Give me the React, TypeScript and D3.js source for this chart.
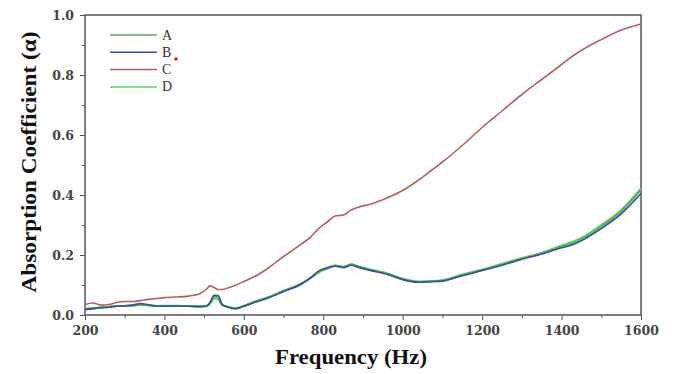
import * as d3 from "d3";
import React, { useEffect, useRef } from "react";

// DATA
const freq = [
  200, 220, 240, 260, 280, 300, 320, 340, 360, 380, 400, 430, 460, 490, 505, 515, 525, 535, 545, 560,
  580, 600, 630, 660, 700, 740, 770, 790, 810, 830, 850, 870, 890, 920, 960, 1000, 1040, 1070, 1100,
  1150, 1200, 1250, 1300, 1350, 1400, 1430, 1460, 1500, 1550, 1600,
];
const seriesA = [
  0.02, 0.022, 0.025, 0.027, 0.03, 0.03, 0.032, 0.035, 0.033, 0.03, 0.03, 0.03, 0.03, 0.028, 0.03, 0.04,
  0.062, 0.06, 0.035, 0.027, 0.022, 0.03, 0.045, 0.058, 0.08, 0.1, 0.125, 0.145, 0.155, 0.165, 0.16,
  0.168, 0.16, 0.15, 0.138, 0.12, 0.11, 0.112, 0.115, 0.133, 0.15, 0.168, 0.188, 0.205, 0.228, 0.24,
  0.26, 0.295, 0.345, 0.418,
];
const seriesB = [
  0.018, 0.021, 0.024, 0.026, 0.029, 0.031, 0.033, 0.038, 0.034, 0.03, 0.029, 0.03, 0.029, 0.028, 0.029,
  0.042, 0.066, 0.065, 0.036, 0.026, 0.021, 0.029, 0.043, 0.056, 0.078, 0.1, 0.127, 0.148, 0.158, 0.163,
  0.158, 0.166, 0.158, 0.148, 0.136, 0.118, 0.109, 0.111, 0.113, 0.131, 0.148, 0.166, 0.186, 0.203,
  0.224, 0.235, 0.255, 0.288, 0.337, 0.405,
];
const seriesC = [
  0.035, 0.04, 0.033, 0.035, 0.042, 0.045, 0.045, 0.048, 0.052, 0.055, 0.058, 0.06, 0.063, 0.072, 0.085,
  0.097, 0.092, 0.085, 0.085, 0.09, 0.1, 0.112, 0.13, 0.155, 0.195, 0.232, 0.262, 0.29, 0.31, 0.33, 0.333,
  0.35, 0.36, 0.37, 0.39, 0.415, 0.45, 0.48, 0.51, 0.565, 0.625, 0.68, 0.735, 0.785, 0.835, 0.865, 0.89,
  0.918, 0.95, 0.97,
];
const seriesD = [
  0.021, 0.023, 0.026, 0.028, 0.03, 0.03, 0.031, 0.033, 0.032, 0.03, 0.031, 0.031, 0.03, 0.029, 0.03,
  0.038, 0.055, 0.052, 0.033, 0.027, 0.023, 0.031, 0.046, 0.059, 0.081, 0.102, 0.124, 0.143, 0.154,
  0.164, 0.161, 0.169, 0.161, 0.151, 0.139, 0.121, 0.112, 0.113, 0.116, 0.135, 0.152, 0.171, 0.19,
  0.208, 0.232, 0.245, 0.265, 0.3, 0.35, 0.422,
];
const legendNames = ["A", "B", "C", "D"];
const colors = ["#5aab6c", "#3a4f92", "#b5625f", "#5ad85a"];
const xMajor = [200, 400, 600, 800, 1000, 1200, 1400, 1600];
const xMinor = [300, 500, 700, 900, 1100, 1300, 1500];
const yMajor = [0, 0.2, 0.4, 0.6, 0.8, 1.0];
const yMinor = [0.1, 0.3, 0.5, 0.7, 0.9];

export default function App() {
  const svgRef = useRef(null);
  const svgWidth = 675;
  const svgHeight = 374;
  const margin = { top: 15, right: 34, bottom: 59, left: 85 };

  useEffect(() => {
    const svgEl = d3.select(svgRef.current);
    svgEl.selectAll("*").remove();
    const w = svgWidth - margin.left - margin.right;
    const h = svgHeight - margin.top - margin.bottom;

    const x_scale = d3.scaleLinear().domain([200, 1600]).range([0, w]);
    const y_scale = d3.scaleLinear().domain([0, 1]).range([h, 0]);

    const g = svgEl.append("g").attr("transform", `translate(${margin.left},${margin.top})`);
    const font = "'Liberation Serif', 'Times New Roman', serif";
    const tickFont = "'DejaVu Serif', serif";

    // X axis, major + minor
    const xAx = g
      .append("g")
      .attr("transform", "translate(0," + h + ")")
      .call(d3.axisBottom(x_scale).tickValues(xMajor).tickSize(5).tickPadding(6).tickFormat(d3.format("d")));
    g.append("g")
      .attr("transform", "translate(0," + h + ")")
      .call(d3.axisBottom(x_scale).tickValues(xMinor).tickSize(3).tickFormat(() => ""))
      .select(".domain")
      .remove();

    // Y axis, major + minor
    const yAx = g
      .append("g")
      .call(d3.axisLeft(y_scale).tickValues(yMajor).tickSize(5).tickPadding(6).tickFormat(d3.format(".1f")));
    g.append("g")
      .call(d3.axisLeft(y_scale).tickValues(yMinor).tickSize(3).tickFormat(() => ""))
      .select(".domain")
      .remove();

    [xAx, yAx].forEach((a) => {
      a.selectAll("text")
        .attr("font-family", tickFont)
        .attr("font-weight", "bold")
        .attr("font-size", 12.5)
        .attr("fill", "#444");
    });
    svgEl.selectAll(".tick line").attr("stroke", "#555");
    svgEl.selectAll(".domain").attr("stroke", "none");

    // frame
    g.append("rect")
      .attr("x", 0)
      .attr("y", 0)
      .attr("width", w)
      .attr("height", h)
      .attr("fill", "none")
      .attr("stroke", "#555")
      .attr("stroke-width", 1.5);

    const line = d3
      .line()
      .x((d) => x_scale(d[0]))
      .y((d) => y_scale(d[1]))
      .curve(d3.curveMonotoneX);

    const all = [seriesA, seriesB, seriesC, seriesD];
    // draw order: C, D, A, B
    [2, 3, 0, 1].forEach((i) => {
      g.append("path")
        .datum(freq.map((f, j) => [f, all[i][j]]))
        .attr("fill", "none")
        .attr("stroke", colors[i])
        .attr("stroke-width", i === 1 ? 1.6 : i === 2 ? 1.6 : 2)
        .attr("d", line);
    });

    // legend
    legendNames.forEach((n, i) => {
      const ly = 35 + i * 17.3 - margin.top;
      g.append("line")
        .attr("x1", 25)
        .attr("x2", 72)
        .attr("y1", ly)
        .attr("y2", ly)
        .attr("stroke", colors[i])
        .attr("stroke-width", 1.5);
      g.append("text")
        .attr("x", 77)
        .attr("y", ly + 4.5)
        .attr("font-family", font)
        .attr("font-size", 14)
        .attr("fill", "#333")
        .text(n);
    });
    g.append("circle").attr("cx", 91).attr("cy", 44).attr("r", 1.8).attr("fill", "#e02020");

    // axis titles
    svgEl
      .append("text")
      .attr("x", 351)
      .attr("y", 364)
      .attr("text-anchor", "middle")
      .attr("font-family", font)
      .attr("font-weight", "bold")
      .attr("font-size", 21)
      .attr("textLength", 152)
      .attr("lengthAdjust", "spacingAndGlyphs")
      .attr("fill", "#111")
      .text("Frequency (Hz)");
    svgEl
      .append("text")
      .attr("transform", `translate(36,${162}) rotate(-90)`)
      .attr("text-anchor", "middle")
      .attr("font-family", font)
      .attr("font-weight", "bold")
      .attr("font-size", 22)
      .attr("textLength", 261)
      .attr("lengthAdjust", "spacingAndGlyphs")
      .attr("fill", "#111")
      .text("Absorption Coefficient (\u03b1)");
  });

  return (
    <svg
      ref={svgRef}
      width={svgWidth}
      height={svgHeight}
      style={{ position: "absolute", left: 0, top: 0, background: "#fff" }}
    ></svg>
  );
}
